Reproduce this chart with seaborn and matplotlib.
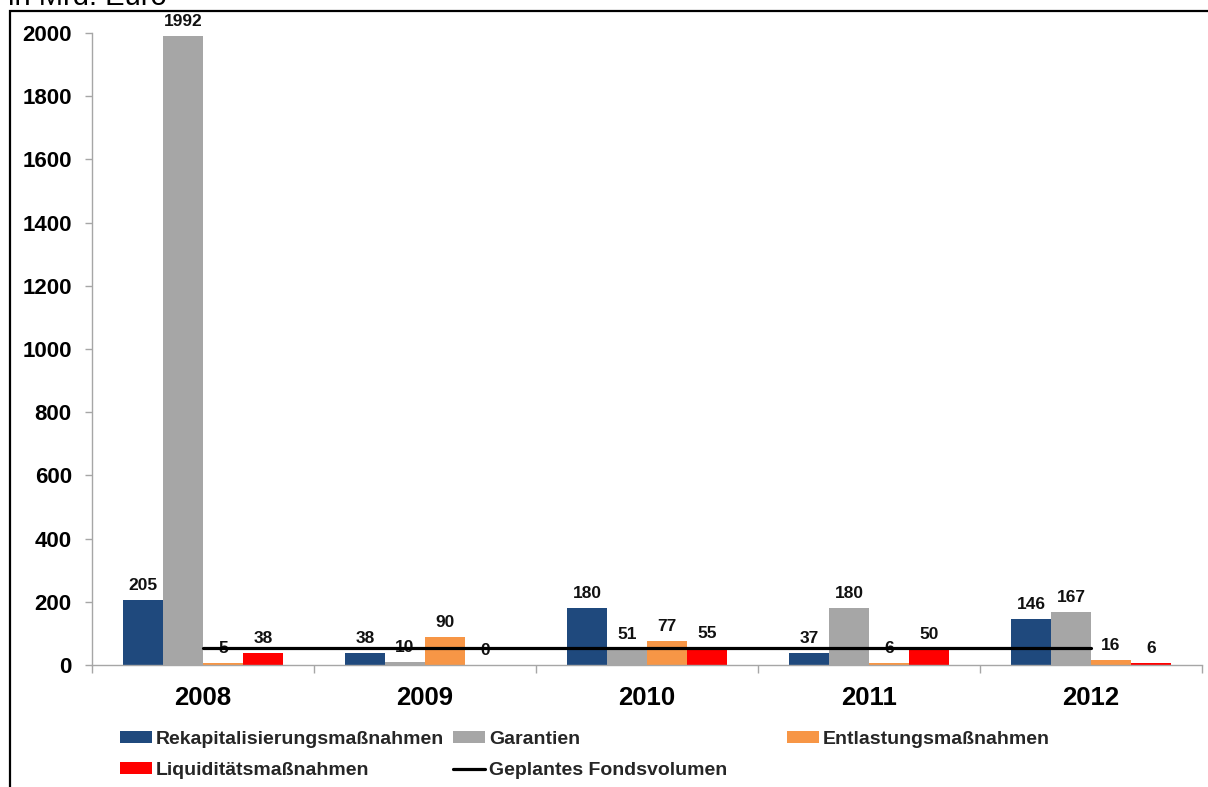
import matplotlib
matplotlib.use("Agg")

import matplotlib.pyplot as plt
import numpy as np
import pandas as pd
import seaborn as sns
from matplotlib.lines import Line2D
from matplotlib.patches import Patch, Rectangle


YEARS = ["2008", "2009", "2010", "2011", "2012"]
MEASURES = [
    "Rekapitalisierungsmaßnahmen",
    "Garantien",
    "Entlastungsmaßnahmen",
    "Liquiditätsmaßnahmen",
]
REKAP = [205, 38, 180, 37, 146]
GARANTIEN = [1992, 10, 51, 180, 167]
ENTLASTUNG = [5, 90, 77, 6, 16]
LIQUIDITAET = [38, 0, 55, 50, 6]
FONDS = [55, 55, 55, 55, 55]
FONDS_LABEL = "Geplantes Fondsvolumen"
Y_TICKS = list(range(0, 2001, 200))

COLORS = ["#1F497D", "#A6A6A6", "#F79646", "#FF0000"]
AXIS_GREY = "#A6A6A6"
W, H = 1208, 787


def build_frame() -> pd.DataFrame:
    rows = []
    for measure, values in zip(MEASURES, [REKAP, GARANTIEN, ENTLASTUNG, LIQUIDITAET]):
        for year, value in zip(YEARS, values):
            rows.append({"year": year, "measure": measure, "value": value})
    return pd.DataFrame(rows)


def main() -> None:
    sns.set_theme(style="white")
    plt.rcParams["font.family"] = ["Liberation Sans", "DejaVu Sans"]

    data = build_frame()

    fig = plt.figure(figsize=(W / 100, H / 100), dpi=100)
    ax = fig.add_axes([92 / W, 1 - 665 / H, 1110 / W, 632 / H])

    sns.barplot(
        data=data,
        x="year",
        y="value",
        hue="measure",
        order=YEARS,
        hue_order=MEASURES,
        palette=COLORS,
        saturation=1,
        width=0.72,
        linewidth=0,
        legend=False,
        ax=ax,
    )
    for container in ax.containers:
        ax.bar_label(container, fmt="{:.0f}", padding=5, fontsize=12.5,
                     fontweight="bold", color="#111111")

    sns.lineplot(x=np.arange(len(YEARS)), y=FONDS, color="black",
                 linewidth=2.3, ax=ax, zorder=5)

    ax.set_xlim(-0.5, len(YEARS) - 0.5)
    ax.set_ylim(0, 2000)
    ax.set_yticks(Y_TICKS)
    ax.set_yticklabels([str(t) for t in Y_TICKS], fontsize=16, fontweight="bold")
    ax.set_xticks(range(len(YEARS)))
    ax.set_xticklabels(YEARS, fontsize=18.5, fontweight="bold")
    ax.set_xticks(np.arange(-0.5, len(YEARS)), minor=True)
    ax.tick_params(axis="x", which="major", length=0, pad=15, colors="black")
    ax.tick_params(axis="x", which="minor", length=6, width=1, color=AXIS_GREY,
                   direction="out", bottom=True)
    ax.tick_params(axis="y", length=5, width=1, color=AXIS_GREY, direction="out",
                   left=True, pad=9.5, labelcolor="black")
    ax.set_xlabel("")
    ax.set_ylabel("")
    for side in ("top", "right"):
        ax.spines[side].set_visible(False)
    for side in ("left", "bottom"):
        ax.spines[side].set_color(AXIS_GREY)
        ax.spines[side].set_linewidth(1)
    ax.grid(False)

    # frame around the chart, cut by the image edges
    fig.patches.append(Rectangle((10 / W, -0.1), 1.2, 1.1 - 11 / H,
                                 transform=fig.transFigure, fill=False,
                                 edgecolor="black", linewidth=1.6))
    fig.text(8 / W, 1 - 5 / H, "in Mrd. Euro", fontsize=21, va="baseline",
             ha="left", color="black")

    patches = [Patch(facecolor=c, edgecolor="none", label=m) for c, m in zip(COLORS, MEASURES)]
    fonds_handle = Line2D([], [], color="black", linewidth=2.3, label=FONDS_LABEL)
    legend_kw = dict(loc="upper left", frameon=False, borderpad=0, borderaxespad=0,
                     handlelength=1.65, handleheight=0.52, handletextpad=0.2,
                     labelspacing=0.72, prop={"size": 14, "weight": "bold"})
    top = 1 - 731 / H
    fig.legend(handles=[patches[0], patches[3]], bbox_to_anchor=(120 / W, top), **legend_kw)
    fig.legend(handles=[patches[1], fonds_handle], bbox_to_anchor=(453 / W, top), **legend_kw)
    fig.legend(handles=[patches[2]], bbox_to_anchor=(787 / W, top), **legend_kw)

    fig.savefig("out.png", dpi=100)
    plt.close(fig)


if __name__ == "__main__":
    main()
